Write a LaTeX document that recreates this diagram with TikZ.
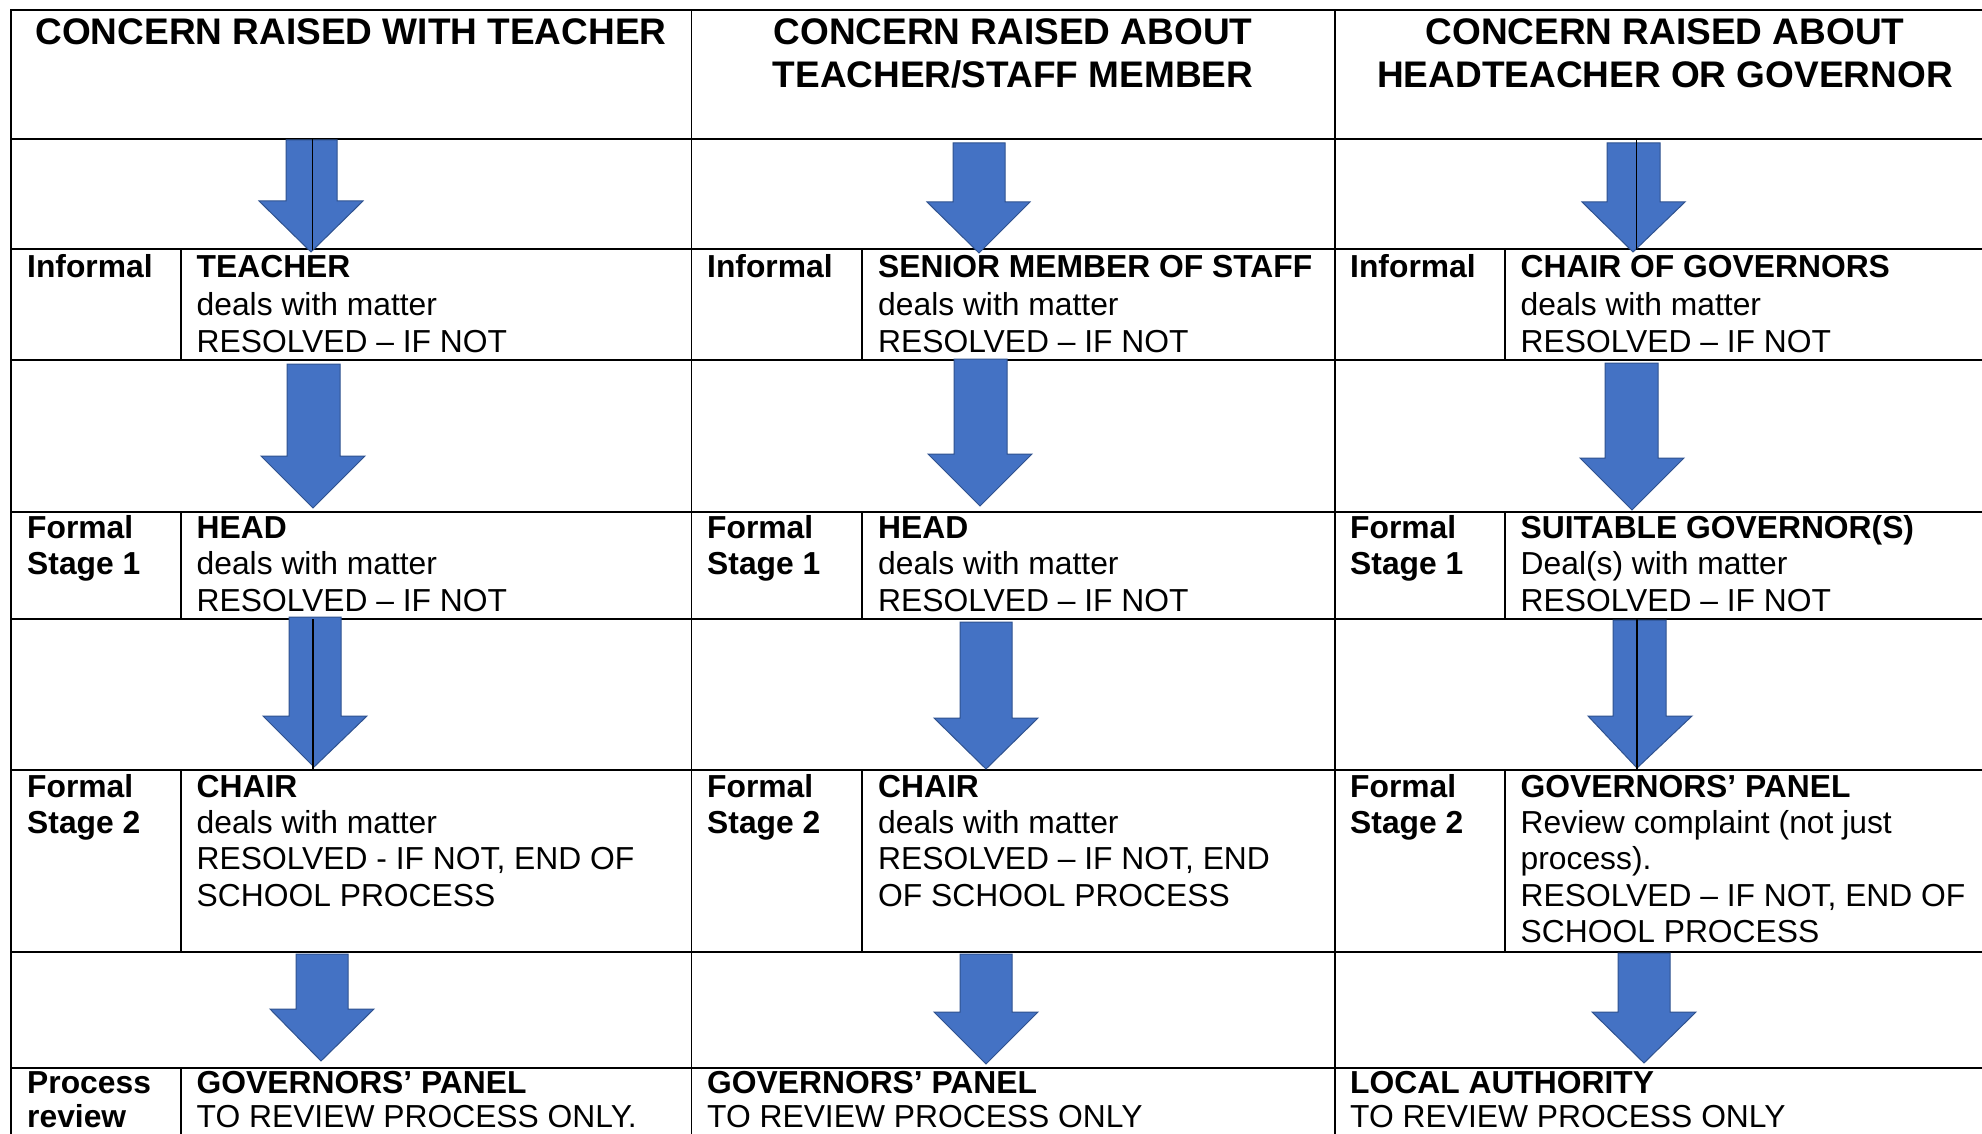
\documentclass[tikz,border=0pt]{standalone}
\usepackage{fontspec}
\setmainfont{Liberation Sans}
\definecolor{arrowfill}{HTML}{4472C4}
\definecolor{arrowedge}{HTML}{2F528F}
\tikzset{
  grid/.style={line width=1.6pt, black, line cap=rect},
  centerline/.style={line width=1.1pt, black},
  blockarrow/.style={fill=arrowfill, draw=arrowedge, line width=1pt, line join=miter},
  body/.style={anchor=base west, inner sep=0pt, font=\fontsize{31.8}{36.7}\selectfont},
  bodyb/.style={anchor=base west, inner sep=0pt, font=\fontsize{31.8}{36.7}\selectfont\bfseries},
  headtxt/.style={anchor=base, inner sep=0pt, font=\fontsize{37}{43}\selectfont\bfseries},
}
\newcommand{\barrow}[8]{\path[blockarrow] (#1,#3) -- (#2,#3) -- (#2,#4) -- (#6,#4) -- (#8,#7) -- (#5,#4) -- (#1,#4) -- cycle;}
\begin{document}
\begin{tikzpicture}[x=1pt,y=-1pt]
\useasboundingbox (0,0) rectangle (1982,1134);
\fill[white] (0,0) rectangle (1982,1134);
\clip (0,0) rectangle (1982,1134);
% table grid
\foreach \y in {10,139,249,360,512,619,770,952,1068} \draw[grid] (11,\y) -- (2000,\y);
\foreach \x in {11,691.5,1335} \draw[grid] (\x,10) -- (\x,1150);
\foreach \a/\b in {249/360,512/619,770/952,1068/1150} \draw[grid] (181,\a) -- (181,\b);
\foreach \a/\b in {249/360,512/619,770/952} {\draw[grid] (862,\a) -- (862,\b); \draw[grid] (1505,\a) -- (1505,\b);}
% block arrows: shaftL shaftR top headY headL headR tipY tipX
\barrow{286}{337}{140}{201}{259}{363}{252}{311}
\barrow{287}{340}{364}{456}{261}{365}{508}{313}
\barrow{289}{341}{617}{716}{263}{367}{767}{314}
\barrow{296}{348}{954}{1009}{270}{374}{1061}{321}
\barrow{953}{1005}{143}{202}{927}{1030}{253}{979}
\barrow{954}{1007}{359}{454}{928}{1032}{506}{980}
\barrow{960}{1012}{622}{718}{934}{1038}{769}{986}
\barrow{960}{1012}{954}{1012}{934}{1038}{1064}{986}
\barrow{1607}{1660}{143}{202}{1582}{1685}{252}{1633}
\barrow{1605}{1658}{363}{458}{1580}{1684}{510}{1632}
\barrow{1613}{1666}{620}{716}{1588}{1692}{768}{1637}
\barrow{1618}{1670}{953}{1012}{1592}{1696}{1063}{1644}
% thin centre lines
\coordinate (la1) at (312.5,139); \coordinate (lb1) at (312.5,250);
\coordinate (la2) at (313,619);   \coordinate (lb2) at (313,770);
\coordinate (la3) at (1636.6,139); \coordinate (lb3) at (1636.6,250);
\coordinate (la4) at (1637,619);  \coordinate (lb4) at (1637,770);
\draw[centerline] (la1) -- (lb1);
\draw[centerline] (la2) -- (lb2);
\draw[centerline] (la3) -- (lb3);
\draw[centerline] (la4) -- (lb4);
% headers
\node[headtxt] (h1) at (351,45) {CONCERN RAISED WITH TEACHER};
\node[headtxt] (h2a) at (1013,45) {CONCERN RAISED ABOUT};
\node[headtxt] (h2b) at (1013,88) {TEACHER/STAFF MEMBER};
\node[headtxt] (h3a) at (1665,45) {CONCERN RAISED ABOUT};
\node[headtxt] (h3b) at (1665,88) {HEADTEACHER OR GOVERNOR};
% Informal row
\node[bodyb] (i1l) at (27,278) {Informal};
\node[bodyb] (i1a) at (196.5,278) {TEACHER};
\node[body] (i1b) at (196.5,315) {deals with matter};
\node[body] (i1c) at (196.5,352) {RESOLVED – IF NOT};
\node[bodyb] (i2l) at (707,278) {Informal};
\node[bodyb] (i2a) at (878,278) {SENIOR MEMBER OF STAFF};
\node[body] (i2b) at (878,315) {deals with matter};
\node[body] (i2c) at (878,352) {RESOLVED – IF NOT};
\node[bodyb] (i3l) at (1350,278) {Informal};
\node[bodyb] (i3a) at (1520.5,278) {CHAIR OF GOVERNORS};
\node[body] (i3b) at (1520.5,315) {deals with matter};
\node[body] (i3c) at (1520.5,352) {RESOLVED – IF NOT};
% Formal stage 1
\node[bodyb] (f1l1) at (27,538) {Formal};
\node[bodyb] (f1l2) at (27,574.5) {Stage 1};
\node[bodyb] (f1a) at (196.5,538) {HEAD};
\node[body] (f1b) at (196.5,574.5) {deals with matter};
\node[body] (f1c) at (196.5,611) {RESOLVED – IF NOT};
\node[bodyb] (f2l1) at (707,538) {Formal};
\node[bodyb] (f2l2) at (707,574.5) {Stage 1};
\node[bodyb] (f2a) at (878,538) {HEAD};
\node[body] (f2b) at (878,574.5) {deals with matter};
\node[body] (f2c) at (878,611) {RESOLVED – IF NOT};
\node[bodyb] (f3l1) at (1350,538) {Formal};
\node[bodyb] (f3l2) at (1350,574.5) {Stage 1};
\node[bodyb] (f3a) at (1520.5,538) {SUITABLE GOVERNOR(S)};
\node[body] (f3b) at (1520.5,574.5) {Deal(s) with matter};
\node[body] (f3c) at (1520.5,611) {RESOLVED – IF NOT};
% Formal stage 2
\node[bodyb] (g1l1) at (27,797) {Formal};
\node[bodyb] (g1l2) at (27,833) {Stage 2};
\node[bodyb] (g1a) at (196.5,797) {CHAIR};
\node[body] (g1b) at (196.5,833) {deals with matter};
\node[body] (g1c) at (196.5,869.5) {RESOLVED - IF NOT, END OF};
\node[body] (g1d) at (196.5,906) {SCHOOL PROCESS};
\node[bodyb] (g2l1) at (707,797) {Formal};
\node[bodyb] (g2l2) at (707,833) {Stage 2};
\node[bodyb] (g2a) at (878,797) {CHAIR};
\node[body] (g2b) at (878,833) {deals with matter};
\node[body] (g2c) at (878,869.5) {RESOLVED – IF NOT, END};
\node[body] (g2d) at (878,906) {OF SCHOOL PROCESS};
\node[bodyb] (g3l1) at (1350,797) {Formal};
\node[bodyb] (g3l2) at (1350,833) {Stage 2};
\node[bodyb] (g3a) at (1520.5,797) {GOVERNORS’ PANEL};
\node[body] (g3b) at (1520.5,833) {Review complaint (not just};
\node[body] (g3c) at (1520.5,869.5) {process).};
\node[body] (g3d) at (1520.5,906) {RESOLVED – IF NOT, END OF};
\node[body] (g3e) at (1520.5,942.5) {SCHOOL PROCESS};
% Process review
\node[bodyb] (p1l1) at (27,1093) {Process};
\node[bodyb] (p1l2) at (27,1127) {review};
\node[bodyb] (p1a) at (196.5,1093) {GOVERNORS’ PANEL};
\node[body] (p1b) at (196.5,1127) {TO REVIEW PROCESS ONLY.};
\node[bodyb] (p2a) at (707,1093) {GOVERNORS’ PANEL};
\node[body] (p2b) at (707,1127) {TO REVIEW PROCESS ONLY};
\node[bodyb] (p3a) at (1350,1093) {LOCAL AUTHORITY};
\node[body] (p3b) at (1350,1127) {TO REVIEW PROCESS ONLY};
\end{tikzpicture}
\end{document}
